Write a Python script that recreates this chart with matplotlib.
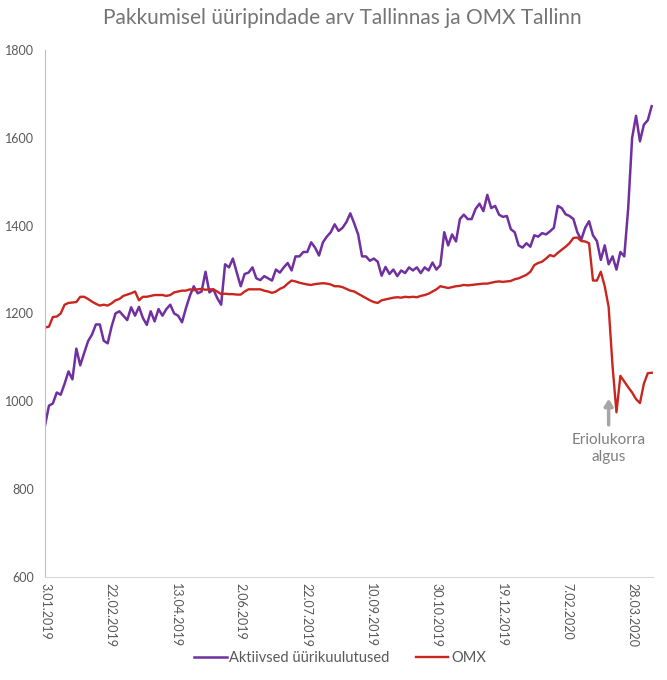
import matplotlib
matplotlib.use("Agg")
import matplotlib.pyplot as plt
import pandas as pd

# values, one point every 3 days from 3.01.2019
start_date = "2019-01-03"
step_days = 3

listings = [
    945, 990, 995, 1020, 1015, 1040, 1068, 1050, 1120, 1082,
    1110, 1137, 1152, 1175, 1175, 1138, 1132, 1170, 1200, 1205,
    1195, 1185, 1214, 1195, 1215, 1190, 1174, 1205, 1182, 1210,
    1195, 1210, 1220, 1200, 1195, 1180, 1212, 1240, 1262, 1246,
    1250, 1295, 1248, 1255, 1235, 1220, 1312, 1305, 1325, 1293,
    1262, 1290, 1293, 1305, 1280, 1276, 1285, 1280, 1275, 1300,
    1293, 1305, 1315, 1298, 1330, 1330, 1340, 1340, 1362, 1350,
    1332, 1362, 1375, 1385, 1403, 1388, 1395, 1408, 1428, 1405,
    1380, 1330, 1330, 1320, 1325, 1318, 1286, 1306, 1290, 1300,
    1285, 1298, 1292, 1305, 1298, 1305, 1292, 1305, 1298, 1316,
    1300, 1310, 1385, 1355, 1380, 1364, 1415, 1425, 1415, 1415,
    1438, 1450, 1433, 1470, 1440, 1445, 1425, 1420, 1422, 1392,
    1385, 1355, 1350, 1360, 1352, 1378, 1375, 1383, 1380, 1387,
    1395, 1445, 1440, 1426, 1422, 1415, 1385, 1368, 1395, 1410,
    1378, 1365, 1322, 1355, 1312, 1330, 1300, 1340, 1330, 1440,
    1600, 1650, 1592, 1630, 1640, 1672,
]

omx = [
    1168, 1170, 1192, 1193, 1200, 1220, 1224, 1225, 1226, 1238,
    1238, 1233, 1227, 1222, 1218, 1220, 1218, 1223, 1230, 1233,
    1240, 1243, 1246, 1250, 1230, 1238, 1238, 1240, 1242, 1242,
    1242, 1240, 1242, 1248, 1250, 1252, 1252, 1255, 1253, 1255,
    1256, 1254, 1255, 1255, 1250, 1244, 1245, 1244, 1244, 1243,
    1243, 1250, 1255, 1255, 1255, 1255, 1252, 1250, 1247, 1250,
    1256, 1260, 1268, 1275, 1273, 1270, 1268, 1266, 1265, 1267,
    1268, 1269, 1268, 1266, 1262, 1262, 1260, 1256, 1252, 1250,
    1245, 1240, 1235, 1230, 1226, 1224, 1230, 1232, 1234, 1236,
    1237, 1236, 1238, 1237, 1238, 1237, 1240, 1242, 1245, 1250,
    1255, 1262, 1260, 1258, 1260, 1262, 1263, 1265, 1264, 1265,
    1266, 1267, 1268, 1268, 1270, 1272, 1273, 1272, 1273, 1274,
    1278, 1280, 1284, 1288, 1295, 1310, 1315, 1318, 1325, 1333,
    1330, 1338, 1345, 1352, 1360, 1372, 1373, 1365, 1364, 1360,
    1275, 1275, 1295, 1262, 1215, 1080, 975, 1058, 1045, 1032,
    1020, 1005, 996, 1040, 1064, 1065,
]

series_names = ["Aktiivsed üürikuulutused", "OMX"]
title = "Pakkumisel üüripindade arv Tallinnas ja OMX Tallinn"
note_text = "Eriolukorra\nalgus"
note_date = "2020-03-10"
note_values = [940, 1012]  # arrow tail, arrow head

PURPLE = "#7030A0"
RED = "#C8261E"
GREY = "#595959"

plt.rcParams["font.family"] = ["Lato", "DejaVu Sans"]

dates = pd.date_range(start_date, periods=len(listings), freq=f"{step_days}D")
tick_dates = pd.date_range(start_date, periods=10, freq="50D")
tick_labels = [f"{d.day}.{d.month:02d}.{d.year}" for d in tick_dates]

fig = plt.figure(figsize=(6.67, 6.8), dpi=100)
ax = fig.add_axes([0.0675, 0.1515, 0.9115, 0.775])

ax.plot(dates, listings, color=PURPLE, lw=1.8, label=series_names[0])
ax.plot(dates, omx, color=RED, lw=1.7, label=series_names[1])

ax.set_ylim(600, 1800)
ax.set_yticks(range(600, 1801, 200))
ax.set_xlim(dates[0], dates[-1] + pd.Timedelta(days=1))
ax.set_xticks(tick_dates)
ax.set_xticklabels(tick_labels, rotation=270, fontsize=9, color=GREY)
ax.tick_params(axis="y", labelsize=9, labelcolor=GREY, length=0, pad=8)
ax.tick_params(axis="x", length=0, pad=4)

for side in ["top", "right"]:
    ax.spines[side].set_visible(False)
ax.spines["left"].set_color("#BFBFBF")
ax.spines["bottom"].set_color("#D9D9D9")

# emergency situation note
nd = pd.Timestamp(note_date)
ax.annotate("", xy=(nd, note_values[1]), xytext=(nd, note_values[0]),
            arrowprops=dict(arrowstyle="-|>,head_width=0.25,head_length=0.4",
                            color="#A6A6A6", lw=2.5))
ax.text(nd, note_values[0] - 12, note_text, ha="center", va="top",
        fontsize=11, color="#7F7F7F", linespacing=1.25)

fig.text(0.513, 0.973, title, ha="center", va="center", fontsize=15,
         color="#757575")

fig.legend(loc="center", bbox_to_anchor=(0.51, 0.032), ncol=2, frameon=False,
           fontsize=10.5, handlelength=2.2, handletextpad=0.2, columnspacing=1.8,
           labelcolor=GREY)

fig.savefig("out.png", dpi=100)
